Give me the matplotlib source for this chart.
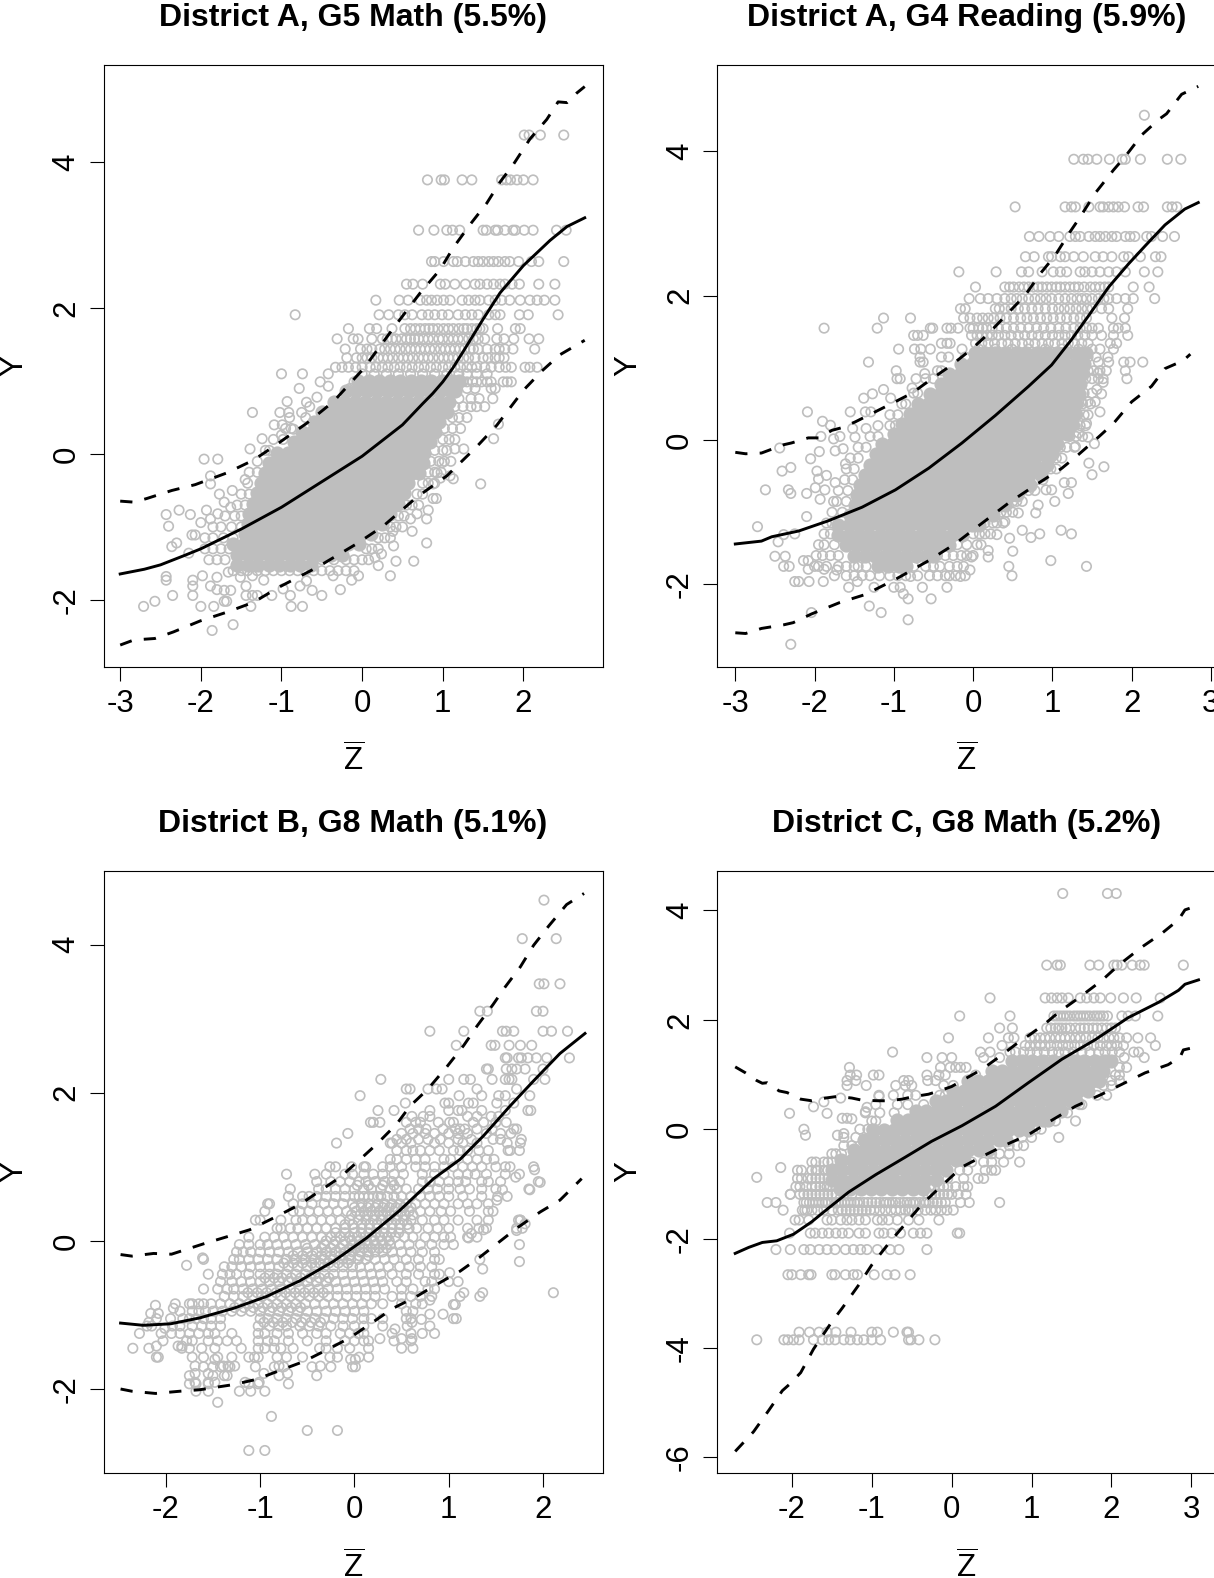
import matplotlib
matplotlib.use("Agg")
import matplotlib.pyplot as plt

plt.rcParams['font.family'] = ['Liberation Sans', 'DejaVu Sans']
plt.rcParams['mathtext.fontset'] = 'custom'
plt.rcParams['mathtext.rm'] = 'Liberation Sans'
plt.rcParams['axes.unicode_minus'] = False

titles = ["District A, G5 Math (5.5%)", "District A, G4 Reading (5.9%)",
          "District B, G8 Math (5.1%)", "District C, G8 Math (5.2%)"]

# ---------- Panel 1 ----------
p1_mean_x = [-3,-2.7,-2.5,-2.2,-2,-1.5,-1,-.5,0,.5,.75,.875,1,1.125,1.25,1.5,1.71,2,2.33,2.54,2.76]
p1_mean_y = [-1.645,-1.58,-1.52,-1.39,-1.3,-1.03,-.73,-.38,-.03,.4,.69,.83,.99,1.18,1.4,1.85,2.21,2.585,2.93,3.12,3.24]
p1_up_x = [-3,-2.83,-2.67,-2.36,-2.07,-1.68,-1.35,-1.1,-.69,-.355,.017,.39,.72,.967,1.13,1.34,1.545,1.71,1.88,2.08,2.29,2.43,2.54,2.66,2.76]
p1_up_y = [-.646,-.66,-.61,-.5,-.42,-.26,-.085,.1,.42,.72,1.17,1.73,2.21,2.53,2.83,3.15,3.44,3.73,3.98,4.32,4.59,4.83,4.82,4.95,5.04]
p1_lo_x = [-3,-2.83,-2.57,-2.34,-2.01,-1.68,-1.35,-1.02,-.56,-.066,.26,.68,1.05,1.42,1.67,2,2.23,2.45,2.76]
p1_lo_y = [-2.62,-2.55,-2.53,-2.44,-2.29,-2.17,-2.035,-1.82,-1.555,-1.23,-.99,-.59,-.3,.1,.395,.875,1.14,1.36,1.56]
p1_rows = [
 (4.375,[2.01,2.07,2.21,2.5]),
 (3.76,[.81,.98,1.02,1.24,1.36,1.73,1.79,1.84,1.92,2.0,2.12]),
 (3.07,[.7,.89,1.05,1.12,1.21,1.5,1.54,1.65,1.68,1.77,1.87,1.9,2.01,2.12,2.41,2.53]),
 (2.64,[.86,.9,1.01,1.13,1.18,1.28,1.38,1.44,1.5,1.57,1.63,1.69,1.77,1.83,1.94,2.1,2.19,2.5]),
 (2.33,[.55,.63,.75,.97,1.03,1.15,1.28,1.4,1.46,1.55,1.63,1.71,1.77,1.86,1.95,2.19,2.39]),
 (2.11,[.17,.46,.57,.72,.8,.86,.93,1.01,1.09,1.24,1.32,1.4,1.46,1.57,1.65,1.73,1.83,1.96,2.08,2.17,2.26,2.39]),
 (1.91,[-.83,.21,.33,.45,.53,.62,.74,.82,.9,.99,1.07,1.19,1.28,1.36,1.44,1.57,1.65,1.71,1.95,2.06,2.43]),
 (1.72,[-.17,.09,.18,.37,.53,.66,.78,.88,1.01,1.13,1.26,1.36,1.46,1.68,1.9,1.96]),
 (1.58,[-.31,-.11,-.05,.12,.31,.49,.6,.7,.82,.95,1.07,1.19,1.32,1.52,1.67,1.76,1.88,2.07,2.19]),
 (1.44,[-.21,-.02,.06,.22,.35,.47,.6,.72,.84,.97,1.09,1.21,1.34,1.44,1.65,1.77,1.87,2.14]),
 (1.32,[-.19,-.07,.06,.2,.32,.45,.57,.7,.82,.95,1.07,1.19,1.32,1.5,1.65,1.76]),
 (1.19,[-.33,-.25,-.17,-.08,0,.1,.25,.4,.55,.7,.85,1,1.15,1.3,1.42,1.52,1.78,1.85,2.02,2.08,2.17]),
 (.99,[-.1,.05,.2,.35,.5,.65,.8,.95,1.1,1.25,1.37,1.48,1.6,1.75,1.8,1.85]),
 (.9,[-.15,0,.12,.3,.45,1.3,1.4,1.6,1.65]),
 (.76,[1.2,1.35,1.45,1.62]),
 (.65,[-.65,1.15,1.25,1.35,1.42,1.52]),
 (.5,[-.9,-.7,1.12,1.2,1.3]),
 (.35,[-.95,-.88,1.02,1.12,1.22]),
 (.2,[-1.1,-.98,1,1.08,1.15]),
 (.05,[-1.2,-1.15,.9,1,1.05]),
 (-.1,[-1.3,.85,.95,1.02,1.1]),
 (-.25,[-1.4,-1.3,.82,.9,.98]),
 (-.4,[-1.42,.75,.82,.9]),
 (-.55,[-1.5,-1.4,.68,.75]),
 (-.7,[-1.55,-1.45,.55,.62,.7]),
 (-.85,[-1.7,-1.58,-1.5,.45,.52]),
 (-1,[-1.85,-1.75,-1.62,-1.5,.35,.42,.5]),
 (-1.15,[-1.95,-1.85,-1.72,-1.6,.2,.28,.35]),
 (-1.3,[-1.95,-1.85,-1.75,-1.65,.05,.12,.2]),
 (-1.45,[-1.9,-1.8,-1.7,-.5,-.35,-.2,-.1,0,.08]),
 (-1.6,[-1.6,-1.5,-1.42,-1.3,-1.2,-1.1,-1,-.9,-.8,-.7,-.6,-.5,-.4,-.3,-.2,-.1]),
]
p1_extra = [
 (1.72,[.6,.72,.83,.94,1.07,1.2,1.3,1.42,1.5]),
 (1.58,[.25,.37,.42,.55,.65,.76,.88,1,1.13,1.25,1.38,1.44]),
 (1.44,[.12,.28,.41,.54,.66,.78,.9,1.03,1.15,1.27,1.38,1.55,1.7]),
 (1.32,[0,.12,.26,.38,.51,.63,.76,.88,1.01,1.13,1.26,1.4,1.56,1.7]),
 (1.19,[.17,.32,.47,.62,.77,.92,1.07,1.22,1.36,1.6,1.7]),
 (1.1,[0,.15,.3,.45,.6,.75,.9,1.05,1.2,1.3,1.42,1.55]),
 (.99,[1.3,1.42,1.55]),
]
p1_sx = [-2.71,-2.57,-2.43,-2.43,-2.35,-2.1,-2.1,-2.1,-2,-1.84,-1.86,-1.6,-1.71,-1.68,-1.98,-1.88,-1.8,-1.71,-1.63,-1.8,-1.66,-1.51,-1.44,-1.44,-1.36,-1.3,-1.38,-1.12,-.89,-.88,-.74,-.5,-.27,-.62,-.77,-1.36,-1.22,-.98,-.69,-.36,-.13,-.045,.2,.35,.42,.64,.24,.39,.16,.8,.62,.38,.6,.8,.82,.68,.88,.92,1.47,1.09,1.13,.97,.88,1.63,1.69,1.15,1.26,.99,.93,
 -2.43,-2.27,-2.4,-2.13,-2,-2.11,-2.07,-2.36,-2.3,-2.15,-1.93,-1.88,-1.79,-1.96,-1.79,-1.88,-1.88,-1.77,-1.61,-1.71,-1.63,-1.36,-1.24,-1.39,-1.45,-1.09,-1.02,-.93,-.91,-.75,-.69,-1,-.74,-.78,-.56,-.52,-.42,-.42,-1,-.99,-.85]
p1_sy = [-2.09,-2.02,-1.68,-1.73,-1.94,-1.94,-1.81,-1.73,-2.09,-2.09,-2.42,-2.34,-2.02,-2.02,-1.67,-1.81,-1.86,-1.87,-1.87,-1.69,-1.62,-1.69,-1.81,-1.94,-1.94,-1.94,-2.09,-1.94,-1.94,-2.09,-2.09,-1.94,-1.86,-1.87,-1.81,-1.67,-1.73,-1.85,-1.74,-1.67,-1.73,-1.67,-1.53,-1.67,-1.47,-1.47,-1.37,-1.26,-1.42,-1.22,-1.06,-1.06,-.89,-.89,-.77,-.82,-.61,-.61,-.41,-.3,-.34,-.33,-.41,.21,.41,.07,.07,-.12,-.26,
 -.83,-.77,-.99,-.83,-.94,-1.11,-1.11,-1.27,-1.22,-1.36,-.77,-.89,-.82,-.07,-.07,-.41,-.3,-.55,-.5,-.66,-.73,.57,.21,.07,-.35,.4,.57,.72,.57,.57,.71,1.1,1.1,.9,.78,.99,1.1,.93,.26,.4,.34]
p1_core = [
 (-1.52,[-1.55,-1.42,-1.29,-1.16,-1.03,-.9,-.77,-.64]),
 (-1.38,[-1.55,-1.42,-1.29,-1.16,-1.03,-.9,-.77,-.64,-.51,-.38,-.25]),
 (-1.24,[-1.6,-1.47,-1.34,-1.21,-1.08,-.95,-.82,-.69,-.56,-.43,-.3,-.17,-.04]),
 (-1.1,[-1.45,-1.32,-1.19,-1.06,-.93,-.8,-.67,-.54,-.41,-.28,-.15,-.02,.11]),
 (-.96,[-1.42,-1.29,-1.16,-1.03,-.9,-.77,-.64,-.51,-.38,-.25,-.12,.01,.14,.25]),
 (-.82,[-1.4,-1.27,-1.14,-1.01,-.88,-.75,-.62,-.49,-.36,-.23,-.1,.03,.16,.29,.35]),
 (-.68,[-1.35,-1.22,-1.09,-.96,-.83,-.7,-.57,-.44,-.31,-.18,-.05,.08,.21,.34,.45]),
 (-.54,[-1.3,-1.17,-1.04,-.91,-.78,-.65,-.52,-.39,-.26,-.13,0,.13,.26,.39,.52]),
 (-.4,[-1.25,-1.12,-.99,-.86,-.73,-.6,-.47,-.34,-.21,-.08,.05,.18,.31,.44,.57]),
 (-.26,[-1.2,-1.07,-.94,-.81,-.68,-.55,-.42,-.29,-.16,-.03,.1,.23,.36,.49,.62,.7]),
 (-.12,[-1.15,-1.02,-.89,-.76,-.63,-.5,-.37,-.24,-.11,.02,.15,.28,.41,.54,.67,.75]),
 (.02,[-1.05,-.92,-.79,-.66,-.53,-.4,-.27,-.14,-.01,.12,.25,.38,.51,.64,.77]),
 (.16,[-.85,-.72,-.59,-.46,-.33,-.2,-.07,.06,.19,.32,.45,.58,.71,.84]),
 (.3,[-.75,-.62,-.49,-.36,-.23,-.1,.03,.16,.29,.42,.55,.68,.81,.9]),
 (.44,[-.6,-.47,-.34,-.21,-.08,.05,.18,.31,.44,.57,.7,.83,.95]),
 (.58,[-.5,-.37,-.24,-.11,.02,.15,.28,.41,.54,.67,.8,.93,1.05]),
 (.72,[-.35,-.22,-.09,.04,.17,.3,.43,.56,.69,.82,.95,1.08]),
 (.86,[-.2,-.07,.06,.19,.32,.45,.58,.71,.84,.97,1.1,1.15]),
 (1.0,[-.05,.08,.21,.34,.47,.6,.73,.86,.99,1.12,1.2]),
]

# ---------- Panel 2 ----------
p2_mean_x = [-3,-2.67,-2.54,-2.2,-1.83,-1.4,-.98,-.56,-.14,.28,.7,.99,1.24,1.455,1.71,1.96,2.17,2.42,2.67,2.84]
p2_mean_y = [-1.44,-1.4,-1.34,-1.26,-1.12,-.93,-.69,-.39,-.04,.34,.745,1.04,1.39,1.72,2.12,2.44,2.69,2.98,3.2,3.29]
p2_up_x = [-3,-2.87,-2.67,-2.39,-2.29,-2.08,-1.95,-1.78,-1.66,-1.49,-1.11,-.77,-.52,-.27,-.02,.19,.45,.66,.85,1.03,1.22,1.35,1.54,1.77,1.92,2.13,2.34,2.44,2.63,2.84]
p2_up_y = [-.17,-.19,-.18,-.065,-.04,.03,.03,.135,.17,.25,.46,.65,.85,1.04,1.26,1.47,1.77,2.01,2.31,2.55,2.88,3.09,3.42,3.74,3.93,4.23,4.44,4.52,4.79,4.9]
p2_lo_x = [-3,-2.87,-2.67,-2.39,-2.27,-2.04,-1.68,-1.36,-.98,-.56,-.23,.025,.45,.82,1.12,1.33,1.58,1.77,2,2.25,2.42,2.65,2.74]
p2_lo_y = [-2.67,-2.68,-2.61,-2.56,-2.53,-2.41,-2.25,-2.14,-1.93,-1.67,-1.44,-1.225,-.87,-.6,-.39,-.2,.04,.23,.53,.745,.99,1.1,1.19]
p2_rows = [
 (4.5,[2.16]),
 (3.89,[1.27,1.39,1.45,1.56,1.72,1.88,1.92,2.11,2.45,2.62]),
 (3.23,[.53,1.16,1.24,1.29,1.46,1.6,1.64,1.71,1.77,1.83,1.91,2.08,2.15,2.45,2.51,2.57]),
 (2.82,[.71,.83,.97,1.08,1.22,1.29,1.35,1.46,1.54,1.6,1.67,1.75,1.81,1.92,1.98,2.04,2.19,2.25,2.39,2.54]),
 (2.54,[.66,.77,.95,.99,1.1,1.16,1.27,1.39,1.54,1.64,1.75,1.9,1.96,2.11,2.3,2.37]),
 (2.33,[-.18,.29,.61,.7,.87,1.01,1.1,1.18,1.35,1.41,1.5,1.6,1.71,1.81,1.92,2.16,2.33]),
 (2.12,[.03,.4,.51,.64,.76,.87,.99,1.1,1.22,1.33,1.48,1.6,1.71,2.02,2.22]),
 (1.96,[-.05,.09,.19,.3,.4,.55,.7,.85,.99,1.16,1.31,1.43,1.58,1.71,1.81,1.92,2.02,2.29]),
 (1.82,[-.16,-.1,.28,.4,.57,.74,.91,1.08,1.22,1.37,1.5,1.62,1.71,1.95]),
 (1.69,[-1.13,-.79,-.12,-.04,.05,.19,.34,.51,.68,.85,1.01,1.18,1.35,1.75,1.91]),
 (1.55,[-1.88,-1.21,-.54,-.51,-.33,-.28,-.19,-.04,.07,.17,.32,.51,.7,.89,1.08,1.27,1.43,1.58,1.77,1.83,1.92]),
 (1.45,[-.75,-.7,-.63,-.02,.11,.24,.4,.57,.74,.91,1.08,1.24,1.41,1.62,1.77,1.95]),
 (1.34,[-.4,-.33,-.29,.03,.19,.36,.53,.7,.87,1.03,1.2,1.37,1.73,1.81]),
 (1.26,[-.94,-.74,-.66,-.54,-.14,.07,.28,.49,.7,.91,1.12,1.33,1.5,1.6,1.77]),
 (1.15,[-.67,-.4,-.31,-.1,.1,.3,.5,.7,.9,1.1,1.3,1.45,1.55,1.7]),
 (1.08,[-1.32,-.67,-.63,1.58,1.71,1.9,1.98,2.14]),
 (.96,[-.97,-.45,-.4,1.45,1.52,1.6,1.68,1.92]),
 (.85,[-.96,-.92,-.6,-.5,1.42,1.5,1.58,1.64,1.94]),
 (.65,[-.75,-.7,1.4,1.5]),
 (.5,[-.9,-.85,1.38,1.48]),
 (.35,[-1.05,-.95,1.32,1.4,1.45]),
 (.2,[-1.2,-1.05,-.98,1.28,1.35,1.42]),
 (.05,[-1.3,-1.2,1.22,1.3,1.38]),
 (-.1,[-1.45,-1.35,1.1,1.18,1.28]),
 (-.25,[-1.55,-1.45,.98,1.05,1.12]),
 (-.4,[-1.6,-1.5,.9,.98,1.05]),
 (-.55,[-1.62,-1.52,.8,.88]),
 (-.7,[-1.7,-1.58,.62,.7,.78]),
 (-.85,[-1.72,-1.6,.5,.55,.62]),
 (-1,[-1.78,-1.65,.35,.42,.5]),
 (-1.15,[-1.85,-1.78,.15,.25,.3,.38]),
 (-1.3,[-1.88,-1.8,0,.08,.15,.22]),
 (-1.45,[-1.95,-1.88,-1.75,-.2,-.08,.05,.1]),
 (-1.6,[-1.98,-1.9,-1.8,-1.7,-.45,-.35,-.25,-.15,-.08,0]),
 (-1.75,[-2,-1.95,-1.85,-1.7,-1.6,-1.5,-1.45,-1.35,-.75,-.6,-.5,-.42,-.3,-.2,-.12]),
 (-1.88,[-1.75,-1.6,-1.5,-1.4,-1.3,-1.18,-1.05,-.95,-.85,-.7,-.55,-.45,-.35,-.3,-.22,-.1]),
]
p2_extra = [
 (2.12,[.46,.58,.7,.82,.93,1.05,1.16,1.28,1.4,1.54,1.66]),
 (1.96,[.48,.62,.78,.92,1.08,1.24,1.37,1.5,1.65]),
 (1.82,[.33,.48,.65,.82,1,1.15,1.3,1.44]),
 (1.69,[.12,.26,.42,.6,.76,.93,1.1,1.27,1.43]),
 (1.55,[0,.12,.24,.42,.6,.8,.98,1.17,1.35,1.5]),
 (1.45,[.05,.18,.32,.48,.65,.82,1,1.16,1.32,1.5]),
 (1.34,[.11,.27,.44,.62,.78,.95,1.12,1.28,1.45]),
]
p2_sx = [-1.13,-1.27,-1.38,-1.04,-.72,-.61,-.77,-2.09,-1.9,-1.8,-1.55,-1.36,-1.29,-1.52,-1.35,-2.44,-2.05,-1.94,-1.92,-1.76,-1.68,-2.3,-2.41,-2.62,-2.33,-2.3,-2.72,-2.1,-2.1,-1.97,-1.85,-1.95,-1.87,-1.99,-1.93,-1.76,-1.74,-1.61,-1.64,-1.49,-1.74,
 -2.39,-2.46,-2.25,-2.5,-2.37,-2.39,-2.32,-2.14,-2.08,-2.08,-2.25,-2.2,-2.07,-1.89,-1.88,-1.72,-1.57,-1.46,-2.04,-2.3,-1.31,-1.16,-1.25,-1,-.92,-.88,-.82,-.82,-.64,-.53,-.33,-.79,-.16,-.04,-.02,.19,.19,.3,.46,.5,.45,.49,.62,.73,.84,.98,1.11,1.24,1.43,1.5,1.65,1.46,1.2,1.03,1.15,1.24,.99,.92,.82,.79,.57,.4,
 1.53,1.45,1.6,1.54,1.45,1.37,1.62,1.56,1.64,1.58,1.29,1.33,1.43]
p2_sy = [.7,.64,.58,.58,.85,.92,.72,.39,.26,.205,.39,.39,.39,.16,.16,-.11,-.26,-.16,.05,.016,.05,-.38,-.43,-.69,-.69,-.74,-1.2,-.74,-1.06,-.43,-.49,-.54,-.69,-.66,-.82,-.85,-.59,-.33,-.12,.04,-.15,
 -1.31,-1.41,-1.3,-1.61,-1.61,-1.75,-1.75,-1.67,-1.79,-1.67,-1.96,-1.96,-1.96,-1.96,-1.79,-1.8,-2.04,-1.96,-2.39,-2.83,-2.3,-2.39,-2.04,-2.04,-2.04,-2.13,-2.2,-2.49,-2.04,-2.2,-2.04,-1.89,-1.89,-1.8,-1.62,-1.62,-1.53,-1.31,-1.36,-1.54,-1.75,-1.88,-1.25,-1.35,-1.3,-1.67,-1.25,-1.3,-1.75,-.48,-.37,-.32,-.74,-.85,-.59,-.59,-.69,-.69,-.9,-1.01,-1.01,-1.13,
 -.05,.04,.39,.53,.53,.53,.64,.7,.8,.93,-.09,.1,.23]
p2_core = [
 (-1.74,[-1.2,-1.07,-.94,-.85]),
 (-1.6,[-1.5,-1.37,-1.24,-1.11,-.98,-.85,-.72,-.59,-.5]),
 (-1.46,[-1.6,-1.47,-1.34,-1.21,-1.08,-.95,-.82,-.69,-.56,-.43,-.3]),
 (-1.32,[-1.7,-1.57,-1.44,-1.31,-1.18,-1.05,-.92,-.79,-.66,-.53,-.4,-.27,-.14]),
 (-1.18,[-1.7,-1.57,-1.44,-1.31,-1.18,-1.05,-.92,-.79,-.66,-.53,-.4,-.27,-.14,-.01,.07]),
 (-1.04,[-1.55,-1.42,-1.29,-1.16,-1.03,-.9,-.77,-.64,-.51,-.38,-.25,-.12,.01,.14,.25]),
 (-.9,[-1.49,-1.36,-1.23,-1.1,-.97,-.84,-.71,-.58,-.45,-.32,-.19,-.06,.07,.2,.33,.4]),
 (-.76,[-1.47,-1.34,-1.21,-1.08,-.95,-.82,-.69,-.56,-.43,-.3,-.17,-.04,.09,.22,.35,.48,.55]),
 (-.62,[-1.43,-1.3,-1.17,-1.04,-.91,-.78,-.65,-.52,-.39,-.26,-.13,0,.13,.26,.39,.52,.65,.72]),
 (-.48,[-1.37,-1.24,-1.11,-.98,-.85,-.72,-.59,-.46,-.33,-.2,-.07,.06,.19,.32,.45,.58,.71,.85]),
 (-.34,[-1.3,-1.17,-1.04,-.91,-.78,-.65,-.52,-.39,-.26,-.13,0,.13,.26,.39,.52,.65,.78,.93]),
 (-.2,[-1.23,-1.1,-.97,-.84,-.71,-.58,-.45,-.32,-.19,-.06,.07,.2,.33,.46,.59,.72,.85,1.0]),
 (-.06,[-1.15,-1.02,-.89,-.76,-.63,-.5,-.37,-.24,-.11,.02,.15,.28,.41,.54,.67,.8,.93,1.06]),
 (.08,[-1,-.87,-.74,-.61,-.48,-.35,-.22,-.09,.04,.17,.3,.43,.56,.69,.82,.95,1.08,1.18]),
 (.22,[-.9,-.77,-.64,-.51,-.38,-.25,-.12,.01,.14,.27,.4,.53,.66,.79,.92,1.05,1.18,1.25]),
 (.36,[-.8,-.67,-.54,-.41,-.28,-.15,-.02,.11,.24,.37,.5,.63,.76,.89,1.02,1.15,1.28]),
 (.5,[-.7,-.57,-.44,-.31,-.18,-.05,.08,.21,.34,.47,.6,.73,.86,.99,1.12,1.25,1.3]),
 (.64,[-.55,-.42,-.29,-.16,-.03,.1,.23,.36,.49,.62,.75,.88,1.01,1.14,1.27,1.33]),
 (.78,[-.4,-.27,-.14,-.01,.12,.25,.38,.51,.64,.77,.9,1.03,1.16,1.29,1.35]),
 (.92,[-.3,-.17,-.04,.09,.22,.35,.48,.61,.74,.87,1,1.13,1.26,1.37]),
 (1.06,[-.15,-.02,.11,.24,.37,.5,.63,.76,.89,1.02,1.15,1.28,1.4]),
 (1.2,[.02,.15,.28,.41,.54,.67,.8,.93,1.06,1.19,1.32,1.42]),
]

# ---------- Panel 3 ----------
p3_mean_x = [-2.48,-2.24,-1.95,-1.64,-1.28,-.93,-.58,-.22,.13,.48,.84,1.12,1.37,1.65,1.9,2.18,2.445]
p3_mean_y = [-1.11,-1.14,-1.12,-1.04,-.91,-.75,-.54,-.275,.04,.41,.84,1.1,1.42,1.82,2.16,2.53,2.8]
p3_up_x = [-2.48,-2.36,-2.13,-1.94,-1.6,-1.34,-1.11,-.84,-.58,-.36,-.15,.06,.24,.45,.59,.78,.98,1.16,1.3,1.47,1.6,1.76,1.9,2.06,2.25,2.435]
p3_up_y = [-.185,-.206,-.17,-.18,-.04,.06,.15,.32,.49,.68,.86,1.1,1.31,1.58,1.82,2.05,2.35,2.64,2.9,3.19,3.43,3.7,3.99,4.25,4.54,4.69]
p3_lo_x = [-2.48,-2.36,-2.11,-1.85,-1.64,-1.28,-1.04,-.75,-.54,-.29,-.05,.17,.41,.66,.87,1.12,1.33,1.51,1.72,1.97,2.18,2.41]
p3_lo_y = [-2,-2.03,-2.06,-2.03,-2.01,-1.94,-1.87,-1.73,-1.63,-1.47,-1.31,-1.12,-.91,-.75,-.59,-.41,-.22,-.04,.17,.39,.55,.84]
p3_rows = [
 (4.6,[2.01]), (4.08,[1.78,2.14]), (3.47,[1.96,2.01,2.18]), (3.1,[1.33,1.41,1.93,2.0]),
 (2.83,[.8,1.16,1.57,1.61,1.69,2.0,2.09,2.26]),
 (2.64,[1.08,1.45,1.49,1.64,1.76,1.88]),
 (2.47,[1.6,1.62,1.74,1.77,1.84,1.93,2.04,2.28]),
 (2.32,[1.4,1.42,1.61,1.67,1.72,1.81,2.0]),
 (2.18,[.28,1,1.16,1.23,1.46,1.6,1.64,1.67,1.9,2.02]),
 (2.05,[.55,.59,.78,.87,.93,1.3,1.72]),
 (1.96,[.06,1.11,1.35,1.53,1.6,1.86]),
 (1.86,[.54,.96,1,1.21,1.26,1.51,1.69]),
 (1.76,[.25,.42,.8,1,1.1,1.14,1.35,1.6,1.84,1.87]),
 (1.68,[.61,.73,.8,1.2,1.3,1.45,1.53]),
 (1.6,[.17,.2,.27,.55,.65,.7,.89,1.01,1.05,1.26,1.37,1.5,1.61]),
 (1.51,[.59,.68,.76,.94,1.07,1.12,1.17,1.3,1.46,1.69,1.72]),
 (1.45,[-.07,.5,.62,.75,.85,1,1.1,1.2,1.4,1.55,1.66]),
 (1.37,[.45,.55,.68,.78,.91,1.1,1.24,1.47,1.55,1.77]),
 (1.32,[-.19,.38,.4,.5,.6,.85,1,1.15,1.3,1.62,1.76]),
 (1.22,[.45,.55,.62,.7,.8,.9,1.05,1.12,1.2,1.32,1.42,1.63,1.65,1.75]),
 (1.1,[.38,.45,.55,.65,.75,.95,1.02,1.2,1.3,1.4,1.48]),
 (1.0,[-.26,-.2,-.03,.1,.12,.3,.38,.5,.65,.75,.85,.95,1.05,1.15,1.25,1.35,1.5,1.6,1.65,1.9]),
 (.9,[-.72,-.42,-.3,-.1,-.02,.1,.2,.3,.42,.52,.72,.85,.95,1.1,1.2,1.28,1.4,1.6,1.75]),
 (.8,[-.4,-.25,-.15,-.05,.05,.12,.22,.32,.4,.48,.72,.8,.9,1,1.1,1.18,1.35,1.42,1.55,1.95]),
 (.7,[-.68,-.38,-.3,-.2,-.1,0,.1,.18,.28,.38,.45,.55,.68,.78,.88,1,1.12,1.22,1.35,1.5,1.85]),
 (.6,[-.7,-.55,-.48,-.4,-.3,-.2,-.1,0,.1,.2,.28,.35,.42,.5,.6,.7,.8,.9,1,1.15,1.35,1.52,1.62]),
 (.5,[-.92,-.9,-.65,-.55,-.45,-.32,-.22,-.12,-.02,.08,.15,.25,.32,.4,.48,.55,.65,.75,.85,.95,1.1,1.2,1.3,1.42]),
 (.4,[-.95,-.65,-.58,-.48,-.38,-.28,-.18,-.08,.02,.1,.18,.26,.34,.42,.5,.58,.7,.8,.92,1.02,1.22,1.42,1.47]),
 (.28,[-1.05,-1,-.78,-.62,-.55,-.45,-.35,-.25,-.15,-.05,.04,.12,.2,.28,.36,.44,.52,.6,.72,.85,.95,1.1,1.3,1.74,1.76]),
 (.17,[-.82,-.78,-.68,-.6,-.5,-.4,-.3,-.2,-.1,0,.08,.16,.24,.32,.4,.48,.58,.66,.78,.88,1,1.2,1.32,1.4,1.72,1.78]),
 (.05,[-1.12,-.95,-.85,-.75,-.65,-.55,-.45,-.35,-.25,-.15,-.05,.03,.11,.19,.27,.35,.43,.53,.62,.75,.85,.95,1.02,1.2,1.3]),
 (-.05,[-1.22,-1.12,-1,-.92,-.82,-.72,-.62,-.52,-.42,-.32,-.22,-.12,-.02,.06,.14,.22,.3,.38,.48,.58,.7,.82,.95,1.05,1.75]),
 (-.15,[-1.25,-1.18,-1.1,-1,-.9,-.8,-.7,-.6,-.5,-.4,-.3,-.2,-.1,-.02,.06,.14,.22,.3,.4,.5,.6,.72,.85]),
 (-.25,[-1.6,-1.28,-1.22,-1.12,-1.02,-.92,-.82,-.72,-.62,-.52,-.42,-.32,-.22,-.12,-.04,.04,.12,.22,.32,.42,.55,.68,.85,.9,1.33]),
 (-.35,[-1.38,-1.3,-1.2,-1.1,-1,-.9,-.8,-.7,-.6,-.5,-.42,-.32,-.22,-.12,-.02,.06,.16,.26,.36,.48,.58,.7,.82]),
 (-.45,[-1.55,-1.4,-1.32,-1.25,-1.12,-1,-.9,-.82,-.72,-.62,-.52,-.42,-.32,-.22,-.12,-.02,.08,.18,.28,.4,.55,.68,.85,.9]),
 (-.55,[-1.42,-1.3,-1.2,-1.1,-1,-.9,-.8,-.7,-.6,-.5,-.4,-.3,-.2,-.1,0,.1,.2,.3,.45,.55,.75,.82,1,1.1]),
 (-.65,[-1.6,-1.45,-1.35,-1.28,-1.18,-1.08,-.98,-.88,-.78,-.68,-.58,-.48,-.38,-.28,-.18,-.08,.02,.12,.22,.32,.5,.62,.78,.85]),
 (-.75,[-1.38,-1.28,-1.18,-1.08,-.98,-.88,-.78,-.68,-.58,-.48,-.38,-.28,-.18,-.08,.02,.12,.22,.4,.5,.6,.7,.82,1.12,1.33]),
 (-.85,[-1.9,-1.75,-1.72,-1.65,-1.6,-1.52,-1.42,-1.32,-1.22,-1.12,-1.02,-.92,-.82,-.72,-.62,-.52,-.42,-.32,-.22,-.12,-.02,.08,.18,.3,.5,.65,.72]),
 (-.95,[-1.85,-1.72,-1.65,-1.58,-1.5,-1.4,-1.3,-1.2,-1.1,-1,-.9,-.8,-.7,-.6,-.5,-.4,-.3,-.2,-.1,0,.1,.55,.62]),
 (-1.05,[-2.1,-1.95,-1.82,-1.75,-1.68,-1.6,-1.52,-1.42,-1,-.92,-.82,-.72,-.62,-.52,-.42,-.32,-.22,-.12,-.02,.1,.18,.3,.55,.6,1.05,1.08]),
 (-1.15,[-2.2,-2.15,-1.93,-1.85,-1.72,-1.62,-1.52,-1.42,-1.02,-.9,-.8,-.72,-.58,-.48,-.38,-.25,-.12,0,.1,.3,.56,.8]),
 (-1.25,[-2.28,-2.05,-1.85,-1.75,-1.65,-1.55,-1.48,-1.3,-1.02,-.95,-.82,-.7,-.55,-.4,-.3,-.15,-.05,.04,.1,.4,.6,.72,.85]),
 (-1.35,[-2.03,-1.78,-1.72,-1.55,-1.45,-1.35,-1.25,-1.02,-.92,-.85,-.7,-.5,-.3,-.1,0,.1,.15,.42,.6]),
 (-1.45,[-2.35,-2.18,-1.83,-1.75,-1.62,-1.48,-1.2,-1.02,-.95,-.85,-.78,-.65,-.37,-.3,-.18,-.05,.15,.5,.62]),
 (-1.57,[-2.1,-2.08,-1.72,-1.6,-1.45,-1.3,-1.12,-1.06,-1.02,-.82,-.72,-.55,-.26,-.18,.05,.15]),
 (-1.7,[-1.6,-1.5,-1.42,-1.32,-1.05,-.85,-.75,-.45,-.25,-.02,.01]),
 (-1.82,[-1.75,-1.5,-1.38,-1.35,-.8,-.4]),
 (-1.93,[-1.75,-1.68,-1.55,-1.12,-1.02,-.7]),
 (-2.03,[-1.68,-1.55,-1.22,-1.1,-.95]),
]
p3_extra = [
 (.75,[.03,.15,.3,.42]), (.6,[.05,.15,.25]),
 (.45,[0,.07,.14,.22,.3,.37,.44,.52,.6]),
 (.35,[-.03,.06,.14,.22,.3,.38,.46,.54,.62]),
 (.22,[-.1,-.02,.08,.16,.24,.32,.4,.48,.56]),
 (.11,[-.2,-.1,0,.07,.15,.23,.31,.39,.47]),
 (0,[-.3,-.2,-.1,-.03,.05,.13,.21,.29,.37]),
 (-.1,[-.5,-.35,-.25,-.15,-.05,.02,.1,.18,.26,.34]),
 (-.2,[-.65,-.55,-.45,-.35,-.25,-.15,-.05,.05,.15]),
 (-.3,[-.75,-.65,-.55,-.45,-.37,-.27,-.17,-.07]),
 (-.5,[-.95,-.85,-.77,-.67,-.57,-.47,-.37,-.27]),
 (-.7,[-1.13,-1.03,-.93,-.83,-.73,-.63,-.53,-.43,-.33]),
 (-.9,[-1.27,-1.17,-1.07,-.97,-.87,-.77,-.67,-.57]),
 (-1.1,[-.96,-.86,-.76,-.66,-.56,-.46,-.36]),
]
p3_sx = [-1.45,-.88,-.5,-.18,-1.12,-.95,2.11,1.75,1.36,1.36,1.16,1.01,1.07,1.05,.94,.8,.8,.71,.61,.43,.5,.61,.27,1.76,1.72,1.81,1.37,1.42,1.21,1.24,1.51,1.57,1.86,1.97,1.91,1.71,
 -2.11,-2.16,-2.08,-1.92,-2.18,-2.01,-1.94,-2.1,-1.87,-1.83,-1.78,-1.61,-1.69,-1.69,-1.69,-1.55,-1.55,-1.48,-1.39,-1.34,-1.27,-1.48,-1.16,-1.01,-.96,-.71,-.36,-.04,.01,-.8]
p3_sy = [-2.18,-2.37,-2.56,-2.56,-2.83,-2.83,-.7,-.28,-.38,-.7,-.7,-.43,-.86,-.86,-.99,-.8,-.99,-1.06,-1.1,-1.19,-1.32,-1.32,-1.32,.28,.14,.23,.15,.28,.04,.1,.55,.69,.69,.79,.96,.86,
 -.87,-.98,-.98,-.91,-1.1,-1.18,-1.25,-1.42,-1.42,-1.42,-.33,-.23,-1.69,-1.79,-1.91,-1.79,-1.91,-1.91,-1.69,-1.69,-1.69,-1.6,-1.91,-1.91,-1.79,-1.79,-1.69,-1.6,-1.6,-1.69]

# ---------- Panel 4 ----------
p4_mean_x = [-2.71,-2.54,-2.37,-2.19,-1.98,-1.75,-1.54,-1.29,-.95,-.58,-.25,.13,.55,.96,1.38,1.8,2.21,2.59,2.84,2.92,3.09]
p4_mean_y = [-2.27,-2.16,-2.07,-2.04,-1.92,-1.69,-1.44,-1.15,-.83,-.51,-.22,.065,.42,.85,1.28,1.64,2.04,2.32,2.54,2.65,2.73]
p4_up_x = [-2.71,-2.58,-2.44,-2.37,-2.31,-2.16,-2.06,-1.89,-1.75,-1.58,-1.43,-1.25,-1.12,-.91,-.79,-.62,-.5,-.29,-.16,0,.13,.3,.46,.63,.8,.96,1.17,1.34,1.59,1.88,2.09,2.38,2.63,2.84,2.92,3.08]
p4_up_y = [1.14,1.03,.89,.84,.85,.7,.67,.55,.52,.57,.6,.57,.53,.52,.52,.55,.59,.64,.7,.78,.89,1.03,1.18,1.36,1.55,1.71,1.93,2.14,2.4,2.72,3,3.33,3.58,3.83,4.01,4.09]
p4_lo_x = [-2.71,-2.48,-2.29,-2.12,-2.02,-1.89,-1.73,-1.5,-1.37,-1.16,-1,-.79,-.54,-.37,-.16,.13,.42,.67,.96,1.26,1.55,1.88,2.17,2.42,2.71,2.86,2.9,2.99]
p4_lo_y = [-5.89,-5.53,-5.14,-4.78,-4.65,-4.45,-4.02,-3.52,-3.27,-2.84,-2.48,-2.09,-1.66,-1.37,-1.08,-.69,-.47,-.29,-.1,.17,.42,.64,.85,1.03,1.18,1.32,1.45,1.48]
p4_rows = [
 (4.31,[1.39,1.95,2.06]),
 (3.0,[1.19,1.32,1.36,1.73,1.84,2.03,2.07,2.13,2.26,2.36,2.41,2.9]),
 (2.4,[.48,1.17,1.25,1.32,1.38,1.46,1.61,1.69,1.78,1.86,1.99,2.15,2.31,2.61]),
 (2.07,[.1,.73,1.28,1.36,1.44,1.53,1.61,1.69,1.78,1.86,1.95,2.13,2.21,2.3,2.58]),
 (1.85,[.6,.76,1.19,1.3,1.38,1.48,1.61,1.71,1.82,1.94,2.05]),
 (1.67,[-.04,.46,.71,.78,.98,1.11,1.23,1.36,1.48,1.61,1.76,1.9,2.03,2.19,2.33,2.49]),
 (1.53,[.63,.92,1.05,1.17,1.32,1.46,1.61,1.78,1.94,2.07,2.15,2.55]),
 (1.41,[-.74,.36,.48,.73,.9,1.07,1.26,1.42,1.63,1.84,2.01,2.28,2.34]),
 (1.31,[-.31,-.12,0,.4,.6,2.16,2.41]),
 (1.13,[-1.28,-.14,-.02,.05,.11,.18,2.1,2.19]),
 (.99,[-1.27,-1.19,-.98,-.91,-.31,-.16,-.08,.3,2.05,2.1]),
 (.89,[-1.31,-1.2,-.6,-.54,-.3,-.2,2,2.1]),
 (.8,[-1.31,-1.07,-.7,-.58,-.5,-.1,.02,1.9,2.0]),
 (.62,[-.91,-.73,-.55,-.45,-.15,-.08,1.82,1.94]),
 (.45,[-.95,-.68,-.55,-.35,1.48,1.6,1.63]),
 (.3,[-1.08,-.9,-.72,1.3,1.45]),
 (.15,[-1,-.95,1.22,1.3,1.55]),
 (0,[-1.15,-1.05,-1,1.05,1.12]),
 (-.15,[-1.35,-1.2,.88,1,1.34]),
 (-.3,[-1.35,-1.25,.72,.82,.9]),
 (-.45,[-1.5,-1.45,-1.38,.5,.6,.72]),
 (-.6,[-1.75,-1.7,-1.6,-1.55,-1.5,.25,.4,.5,.65,.85]),
 (-.75,[-1.93,-1.88,-1.68,-1.6,-.05,.1,.2,.42,.5,.55]),
 (-.9,[-1.93,-1.88,-1.8,-1.7,-1.6,-.05,.15,.33,.4]),
 (-1.05,[-1.95,-1.9,-1.82,-1.7,-1.6,-1.52,-.28,-.15,-.05,.05,.15,.2]),
 (-1.19,[-2.02,-1.9,-1.8,-1.7,-1.6,-1.5,-.3,-.2,-.1,0,.08,.18]),
 (-1.34,[-2.31,-2.2,-1.85,-1.78,-1.7,-1.62,-1.55,-1.45,-1.38,-1.3,-1.22,-1.15,-1.05,-.95,-.85,-.78,-.7,-.6,-.52,-.45,-.35,-.28,-.18,-.08,.11,.22,.6]),
 (-1.48,[-2.11,-1.87,-1.81,-1.68,-1.37,-1.27,-1.17,-1.07,-.97,-.83,-.7,-.58,-.5,-.33,-.2,-.06,.02]),
 (-1.66,[-1.96,-1.91,-1.79,-1.56,-1.5,-1.39,-1.31,-1.25,-1.16,-1.08,-.93,-.87,-.79,-.68,-.54,-.41,-.16]),
 (-1.9,[-2.03,-1.77,-1.71,-1.62,-1.54,-1.45,-1.37,-1.29,-1.16,-1.08,-.91,-.85,-.75,-.64,-.48,-.39,-.31,.07,.1]),
 (-2.2,[-2.2,-2.02,-1.85,-1.77,-1.66,-1.56,-1.46,-1.33,-1.23,-1.14,-1.06,-.93,-.77,-.66,-.31]),
 (-2.66,[-2.05,-2,-1.89,-1.79,-1.76,-1.5,-1.46,-1.33,-1.23,-1.18,-.97,-.81,-.71,-.52]),
 (-3.71,[-1.91,-1.78,-1.66,-1.56,-1.45,-1.26,-1,-.93,-.73,-.56,-.54]),
 (-3.85,[-2.44,-2.1,-2.05,-1.98,-1.91,-1.73,-1.62,-1.54,-1.46,-1.35,-1.27,-1.18,-1.1,-1,-.89,-.54,-.51,-.41,-.21]),
]
p4_extra = [
 (2.07,[1.32,1.4,1.48,1.57,1.65,1.73,1.82,1.9]),
 (1.85,[1.24,1.34,1.43,1.55,1.66,1.77,1.88,2]),
 (1.67,[1.04,1.17,1.3,1.42,1.55,1.68,1.83,1.97,2.1]),
 (1.53,[.98,1.11,1.24,1.39,1.54,1.7,1.86,2]),
 (1.41,[.8,.98,1.16,1.34,1.52,1.73,1.92,2.1]),
 (-.75,[-1.75,-1.7,-1.55]),
 (-.9,[-1.75,-1.65,-1.55]),
 (-1.05,[-1.75,-1.65,-1.56,-1.45,-.22,-.1]),
 (-1.19,[-1.85,-1.75,-1.65,-1.55,-1.45,-1.35,-1.25,-.25,-.15,-.05]),
 (-1.34,[-1.82,-1.74,-1.66,-1.58,-1.5,-1.42,-1.34,-1.26,-1.18,-1.1,-1,-.9,-.82,-.74,-.65,-.56,-.48,-.4,-.32,-.23,-.13]),
 (-1.48,[-1.84,-1.75,-1.6,-1.5,-1.42,-1.32,-1.22,-1.12,-1.02,-.9,-.76,-.64,-.54,-.42,-.26,-.13]),
]
p4_sx = [-1.39,-1.6,-.91,-1.73,-2.03,-1.56,-1.37,-1.31,-1.25,-1.08,-1.06,-1.85,-1.83,-1.43,-1.35,-2.14,-2.44,-2.02]
p4_sy = [.57,.5,.6,.41,.29,.29,.2,.2,.19,.32,.4,0,-.11,-.11,-.08,-.7,-.88,-1.19]
p4_core = [
 (-1.1,[-1.4,-1.27,-1.14,-1.01,-.88,-.75,-.62,-.49,-.36]),
 (-.92,[-1.5,-1.37,-1.24,-1.11,-.98,-.85,-.72,-.59,-.46,-.33,-.2]),
 (-.74,[-1.5,-1.37,-1.24,-1.11,-.98,-.85,-.72,-.59,-.46,-.33,-.2,-.07]),
 (-.56,[-1.38,-1.25,-1.12,-.99,-.86,-.73,-.6,-.47,-.34,-.21,-.08,.05,.15]),
 (-.38,[-1.22,-1.09,-.96,-.83,-.7,-.57,-.44,-.31,-.18,-.05,.08,.21,.34,.45]),
 (-.2,[-1.1,-.97,-.84,-.71,-.58,-.45,-.32,-.19,-.06,.07,.2,.33,.46,.59,.68]),
 (-.02,[-.98,-.85,-.72,-.59,-.46,-.33,-.2,-.07,.06,.19,.32,.45,.58,.71,.84,.95]),
 (.16,[-.68,-.55,-.42,-.29,-.16,-.03,.1,.23,.36,.49,.62,.75,.88,1.01,1.14,1.2]),
 (.34,[-.45,-.32,-.19,-.06,.07,.2,.33,.46,.59,.72,.85,.98,1.11,1.24,1.37]),
 (.52,[-.2,-.07,.06,.19,.32,.45,.58,.71,.84,.97,1.1,1.23,1.36,1.49,1.55]),
 (.7,[.02,.15,.28,.41,.54,.67,.8,.93,1.06,1.19,1.32,1.45,1.58,1.71]),
 (.88,[.2,.33,.46,.59,.72,.85,.98,1.11,1.24,1.37,1.5,1.63,1.76,1.85]),
 (1.06,[.5,.63,.76,.89,1.02,1.15,1.28,1.41,1.54,1.67,1.8,1.9]),
 (1.24,[.75,.88,1.01,1.14,1.27,1.4,1.53,1.66,1.79,1.92,2.0]),
]

def expand(rows):
    xs, ys = [], []
    for level, vals in rows:
        xs += vals
        ys += [level] * len(vals)
    return xs, ys

GREY = '#bebebe'
W, H = 1214, 1578
fig = plt.figure(figsize=(W / 100, H / 100), dpi=100, facecolor='white')

boxes = [(103.5, 602.7, 64.7, 666.7), (717.3, 1216.5, 64.7, 666.7),
         (103.5, 602.7, 870.5, 1473.0), (717.3, 1216.5, 870.5, 1473.0)]
xlims = [(-3.207, 2.983), (-3.227, 3.07), (-2.661, 2.633), (-2.934, 3.315)]
ylims = [(-2.917, 5.34), (-3.14, 5.2), (-3.134, 5.0), (-6.285, 4.73)]
xticks = [[-3,-2,-1,0,1,2], [-3,-2,-1,0,1,2,3], [-2,-1,0,1,2], [-2,-1,0,1,2,3]]
yticks = [[-2,0,2,4], [-2,0,2,4], [-2,0,2,4], [-6,-4,-2,0,2,4]]
rows_all = [p1_rows + p1_extra, p2_rows + p2_extra, p3_rows + p3_extra, p4_rows + p4_extra]
sx_all = [p1_sx, p2_sx, p3_sx, p4_sx]
sy_all = [p1_sy, p2_sy, p3_sy, p4_sy]
core_all = [p1_core, p2_core, [], p4_core]
lines_all = [(p1_mean_x, p1_mean_y, p1_up_x, p1_up_y, p1_lo_x, p1_lo_y),
             (p2_mean_x, p2_mean_y, p2_up_x, p2_up_y, p2_lo_x, p2_lo_y),
             (p3_mean_x, p3_mean_y, p3_up_x, p3_up_y, p3_lo_x, p3_lo_y),
             (p4_mean_x, p4_mean_y, p4_up_x, p4_up_y, p4_lo_x, p4_lo_y)]

FS = 22.5
for i in range(4):
    l, r, t, b = boxes[i]
    ax = fig.add_axes([l / W, 1 - b / H, (r - l) / W, (b - t) / H])
    ax.set_xlim(*xlims[i])
    ax.set_ylim(*ylims[i])
    cx, cy = expand(core_all[i])
    if cx:
        ax.scatter(cx, cy, s=105, c=GREY, linewidths=0, zorder=1)
    rx, ry = expand(rows_all[i])
    ax.scatter(rx + sx_all[i], ry + sy_all[i], s=46, facecolors='none',
               edgecolors=GREY, linewidths=1.2, zorder=2)
    mx, my, ux, uy, lx, ly = lines_all[i]
    ax.plot(mx, my, color='black', lw=2.1, zorder=3)
    ax.plot(ux, uy, color='black', lw=2.1, ls=(0, (4.2, 4.2)), zorder=3)
    ax.plot(lx, ly, color='black', lw=2.1, ls=(0, (4.2, 4.2)), zorder=3)
    ax.set_xticks(xticks[i])
    ax.set_yticks(yticks[i])
    ax.tick_params(axis='both', length=10, width=0.8, labelsize=FS, pad=6)
    for lab in ax.get_yticklabels():
        lab.set_rotation(90)
        lab.set_va('center')
    for s in ax.spines.values():
        s.set_linewidth(0.8)
    ax.set_title(titles[i], fontsize=23, fontweight='bold', pad=28)
    ax.set_ylabel('Y', fontsize=FS)
    ax.yaxis.set_label_coords(-74 / (r - l), 0.5)
    ax.set_xlabel(r'$\overline{\mathrm{Z}}$', fontsize=FS)
    ax.xaxis.set_label_coords(0.5, -(771 - 666.7) / (b - t))
    ax.xaxis.label.set_va('baseline')

fig.savefig('out.png', dpi=100)
